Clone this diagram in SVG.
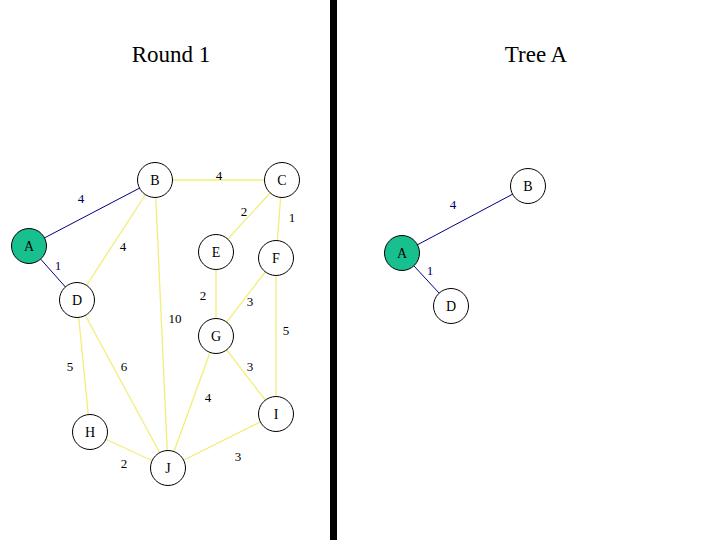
<svg xmlns="http://www.w3.org/2000/svg" width="720" height="540" viewBox="0 0 720 540">
<style>
.t{font-family:"Liberation Serif","Times New Roman",serif;fill:#000}
.title{font-size:23px;text-anchor:middle}
.nl{font-size:14px;text-anchor:middle;dominant-baseline:central}
.el{font-size:13px;text-anchor:middle;dominant-baseline:central}
.nv{fill:#000060}
.y{stroke:#f2ee7a;stroke-width:1.3}
.b{stroke:#000080;stroke-width:1}
.n{fill:#fff;stroke:#000;stroke-width:1}
.g{fill:#19c08f;stroke:#000;stroke-width:1}
</style>
<rect width="720" height="540" fill="#fff"/>
<rect x="330" y="0" width="7" height="540" fill="#000"/>
<text class="t title" x="171" y="62">Round 1</text>
<text class="t title" x="536" y="62">Tree A</text>
<g id="connectors">
<line class="b" x1="29" y1="246" x2="155" y2="180"/>
<line class="b" x1="29" y1="246" x2="77" y2="300"/>
<line class="y" x1="155" y1="180" x2="282" y2="180"/>
<line class="y" x1="155" y1="180" x2="77" y2="300"/>
<line class="y" x1="155" y1="180" x2="168" y2="468"/>
<line class="y" x1="282" y1="180" x2="216" y2="252"/>
<line class="y" x1="282" y1="180" x2="276" y2="258"/>
<line class="y" x1="216" y1="252" x2="216" y2="336"/>
<line class="y" x1="276" y1="258" x2="216" y2="336"/>
<line class="y" x1="276" y1="258" x2="276" y2="414"/>
<line class="y" x1="77" y1="300" x2="90" y2="432"/>
<line class="y" x1="77" y1="300" x2="168" y2="468"/>
<line class="y" x1="216" y1="336" x2="276" y2="414"/>
<line class="y" x1="216" y1="336" x2="168" y2="468"/>
<line class="y" x1="90" y1="432" x2="168" y2="468"/>
<line class="y" x1="168" y1="468" x2="276" y2="414"/>
<line class="b" x1="402" y1="253" x2="528" y2="186"/>
<line class="b" x1="402" y1="253" x2="451" y2="306"/>
<text class="t el nv" x="81" y="198">4</text>
<text class="t el nv" x="58" y="265">1</text>
<text class="t el" x="219" y="175">4</text>
<text class="t el" x="244" y="211">2</text>
<text class="t el" x="292" y="217">1</text>
<text class="t el" x="123" y="246">4</text>
<text class="t el" x="203" y="295">2</text>
<text class="t el" x="250" y="301">3</text>
<text class="t el" x="175" y="318">10</text>
<text class="t el" x="286" y="330">5</text>
<text class="t el" x="70" y="366">5</text>
<text class="t el" x="124" y="366">6</text>
<text class="t el" x="250" y="366">3</text>
<text class="t el" x="208" y="397">4</text>
<text class="t el" x="124" y="463">2</text>
<text class="t el" x="238" y="456">3</text>
<text class="t el nv" x="453" y="204">4</text>
<text class="t el nv" x="430" y="270">1</text>
</g>
<g id="A"><circle class="g" cx="29" cy="246" r="17.5"/><text class="t nl" x="29" y="246">A</text></g>
<g id="B"><circle class="n" cx="155" cy="180" r="17.5"/><text class="t nl" x="155" y="180">B</text></g>
<g id="C"><circle class="n" cx="282" cy="180" r="17.5"/><text class="t nl" x="282" y="180">C</text></g>
<g id="D"><circle class="n" cx="77" cy="300" r="17.5"/><text class="t nl" x="77" y="300">D</text></g>
<g id="E"><circle class="n" cx="216" cy="252" r="17.5"/><text class="t nl" x="216" y="252">E</text></g>
<g id="F"><circle class="n" cx="276" cy="258" r="17.5"/><text class="t nl" x="276" y="258">F</text></g>
<g id="G"><circle class="n" cx="216" cy="336" r="17.5"/><text class="t nl" x="216" y="336">G</text></g>
<g id="H"><circle class="n" cx="90" cy="432" r="17.5"/><text class="t nl" x="90" y="432">H</text></g>
<g id="I"><circle class="n" cx="276" cy="414" r="17.5"/><text class="t nl" x="276" y="414">I</text></g>
<g id="J"><circle class="n" cx="168" cy="468" r="17.5"/><text class="t nl" x="168" y="468">J</text></g>
<g id="TA"><circle class="g" cx="402" cy="253" r="17.5"/><text class="t nl" x="402" y="253">A</text></g>
<g id="TB"><circle class="n" cx="528" cy="186" r="17.5"/><text class="t nl" x="528" y="186">B</text></g>
<g id="TD"><circle class="n" cx="451" cy="306" r="17.5"/><text class="t nl" x="451" y="306">D</text></g>
</svg>
